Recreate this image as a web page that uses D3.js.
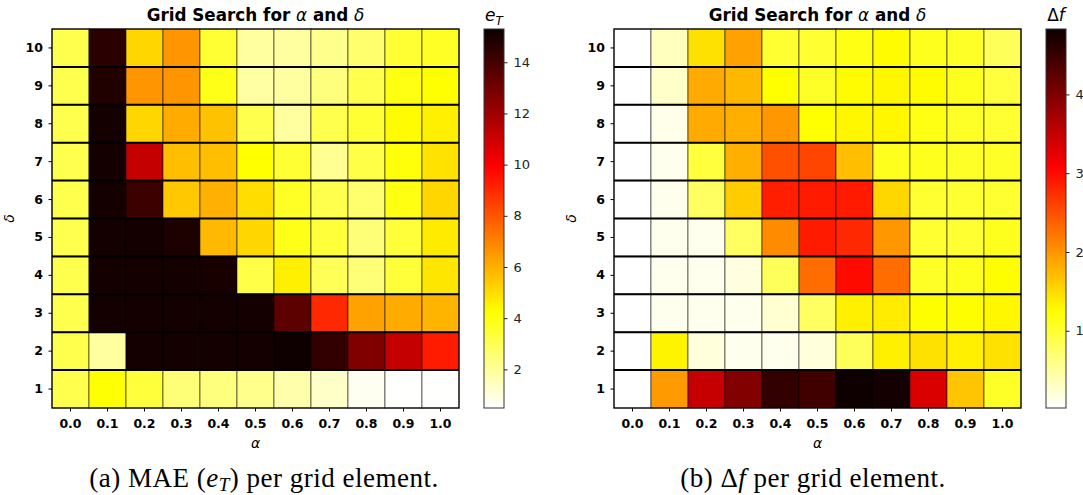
<!DOCTYPE html>
<html>
<head>
<meta charset="utf-8">
<script src="https://cdn.jsdelivr.net/npm/d3@7"></script>
<style>
  body { margin: 0; background: #fff; }
  svg text { font-family: "DejaVu Sans", sans-serif; }
</style>
</head>
<body>
<svg id="chart" width="1083" height="495"></svg>
<script>
const alphas = ["0.0", "0.1", "0.2", "0.3", "0.4", "0.5", "0.6", "0.7", "0.8", "0.9", "1.0"];
const deltas = [1, 2, 3, 4, 5, 6, 7, 8, 9, 10];

// rows listed from delta = 10 (top) down to delta = 1 (bottom)
const maeRows = [
  [3.1, 14.6, 5.15, 6.6, 3.5, 1.9, 1.9, 2.2, 2.65, 3.5, 3.7],
  [3.1, 14.8, 6.6, 6.6, 3.9, 1.85, 1.9, 2.4, 3.1, 4.0, 4.25],
  [3.1, 15.1, 5.15, 6.1, 5.6, 3.1, 1.9, 3.1, 3.5, 4.35, 4.6],
  [3.1, 15.1, 11.2, 5.7, 5.7, 4.25, 3.5, 2.1, 3.2, 4.1, 4.9],
  [3.1, 15.1, 14.2, 5.46, 6.0, 5.0, 3.7, 3.1, 2.65, 4.0, 5.15],
  [3.1, 15.1, 15.1, 14.9, 5.8, 5.15, 3.9, 3.4, 2.5, 3.4, 4.7],
  [3.1, 15.1, 15.1, 15.1, 15.0, 3.2, 4.6, 2.95, 2.5, 3.4, 4.8],
  [3.1, 15.1, 15.1, 15.1, 15.1, 15.1, 13.5, 9.0, 6.3, 6.1, 5.9],
  [3.1, 1.9, 15.1, 15.1, 15.1, 15.1, 15.2, 14.4, 12.7, 11.2, 9.3],
  [3.1, 4.2, 3.36, 2.5, 2.4, 2.2, 1.73, 1.3, 0.7, 0.5, 0.5]
];

const dfRows = [
  [0.02, 0.33, 1.46, 1.92, 1.0, 1.0, 1.15, 1.27, 1.1, 1.05, 0.81],
  [0.02, 0.28, 1.85, 1.75, 1.24, 1.05, 1.27, 1.3, 1.27, 1.1, 0.95],
  [0.02, 0.12, 1.85, 1.82, 1.99, 1.24, 1.3, 1.3, 1.15, 1.05, 1.0],
  [0.02, 0.1, 0.95, 1.82, 2.5, 2.58, 1.71, 1.1, 1.1, 1.05, 1.05],
  [0.02, 0.1, 0.77, 1.61, 2.86, 2.89, 2.89, 1.53, 1.0, 1.0, 1.0],
  [0.02, 0.1, 0.1, 0.77, 2.07, 2.89, 2.79, 1.99, 1.0, 1.0, 1.1],
  [0.02, 0.1, 0.1, 0.17, 0.81, 2.29, 3.0, 2.29, 1.05, 1.1, 1.25],
  [0.02, 0.1, 0.1, 0.1, 0.24, 0.77, 1.35, 1.38, 1.25, 1.25, 1.3],
  [0.02, 1.32, 0.19, 0.1, 0.1, 0.19, 0.81, 1.35, 1.46, 1.35, 1.46],
  [0.02, 1.96, 3.48, 3.97, 4.54, 4.44, 4.8, 4.76, 3.33, 1.66, 1.05]
];

const maeTicks = [2, 4, 6, 8, 10, 12, 14];
const dfTicks = [1, 2, 3, 4];
const maeRange = [0.49, 15.3];
const dfRange = [0.02, 4.83];

// matplotlib "hot", reversed
function hotR(t) {
  const v = 1 - Math.max(0, Math.min(1, t));
  const r = v < 0.365079 ? 0.0416 + v * (1 - 0.0416) / 0.365079 : 1;
  const g = v < 0.365079 ? 0 : v < 0.746032 ? (v - 0.365079) / (0.746032 - 0.365079) : 1;
  const b = v < 0.746032 ? 0 : (v - 0.746032) / (1 - 0.746032);
  return d3.rgb(r * 255, g * 255, b * 255).formatHex();
}

const svg = d3.select("#chart");
const W = 407, H = 379, plotTop = 29;

function panel(left, rows, range, ticks, cbLeft, gradId, cbLabel) {
  const g = svg.append("g").attr("transform", "translate(" + left + "," + plotTop + ")");
  const x = d3.scaleBand().domain(alphas).range([0, W]);
  const y = d3.scaleBand().domain(deltas).range([H, 0]);
  const norm = d3.scaleLinear().domain(range).range([0, 1]);

  const cells = [];
  rows.forEach((row, i) => {
    const delta = deltas[deltas.length - 1 - i];
    row.forEach((v, j) => cells.push({a: alphas[j], d: delta, v: v}));
  });

  g.selectAll(".cell")
    .data(cells)
    .enter().append("rect")
    .attr("class", "cell")
    .attr("x", d => x(d.a))
    .attr("y", d => y(d.d))
    .attr("width", x.bandwidth())
    .attr("height", y.bandwidth())
    .attr("fill", d => hotR(norm(d.v)))
    .attr("stroke", "rgba(0,0,0,0.45)")
    .attr("stroke-width", 1.2);

  // row separators
  g.selectAll(".hline")
    .data(deltas.slice(1))
    .enter().append("line")
    .attr("x1", 0).attr("x2", W)
    .attr("y1", d => y(d) + y.bandwidth())
    .attr("y2", d => y(d) + y.bandwidth())
    .attr("stroke", "#000")
    .attr("stroke-width", 2);

  g.append("rect")
    .attr("width", W).attr("height", H)
    .attr("fill", "none").attr("stroke", "#000").attr("stroke-width", 1.2);

  const xa = g.append("g")
    .attr("transform", "translate(0," + H + ")")
    .call(d3.axisBottom(x).tickSize(3.5).tickPadding(7.5));
  const ya = g.append("g")
    .call(d3.axisLeft(y).tickSize(3.5).tickPadding(5.5));
  [xa, ya].forEach(a => {
    a.select(".domain").remove();
    a.selectAll("text")
      .style("font-family", "DejaVu Sans")
      .style("font-size", "12.5px")
      .style("font-weight", "bold")
      .attr("fill", "#000");
    a.selectAll("line").attr("stroke", "#000");
  });

  g.append("text")
    .attr("x", W / 2).attr("y", H + 40)
    .attr("text-anchor", "middle")
    .attr("font-size", 14).attr("font-style", "italic")
    .text("α");

  g.append("text")
    .attr("transform", "translate(" + (-38) + "," + (H / 2) + ") rotate(-90)")
    .attr("text-anchor", "middle")
    .attr("font-size", 14).attr("font-style", "italic")
    .text("δ");

  const title = g.append("text")
    .attr("x", W / 2).attr("y", -8)
    .attr("text-anchor", "middle")
    .attr("font-size", 16.8).attr("font-weight", "bold");
  title.append("tspan").text("Grid Search for ");
  title.append("tspan").attr("font-weight", "normal").attr("font-style", "italic").text("α");
  title.append("tspan").text(" and ");
  title.append("tspan").attr("font-weight", "normal").attr("font-style", "italic").text("δ");

  // colorbar
  const grad = svg.append("defs").append("linearGradient")
    .attr("id", gradId)
    .attr("x1", 0).attr("y1", 1).attr("x2", 0).attr("y2", 0);
  d3.range(0, 1.0001, 0.02).forEach(t => {
    grad.append("stop").attr("offset", t).attr("stop-color", hotR(t));
  });

  const cb = svg.append("g").attr("transform", "translate(" + cbLeft + "," + plotTop + ")");
  const cy = d3.scaleLinear().domain(range).range([H, 0]);
  cb.append("rect")
    .attr("width", 20).attr("height", H)
    .attr("fill", "url(#" + gradId + ")")
    .attr("stroke", "#333").attr("stroke-width", 1);
  const ca = cb.append("g")
    .attr("transform", "translate(20,0)")
    .call(d3.axisRight(cy).tickValues(ticks).tickFormat(d3.format("d")).tickSize(3.5).tickPadding(6));
  ca.select(".domain").remove();
  ca.selectAll("text")
    .style("font-family", "DejaVu Sans")
    .style("font-size", "13px")
    .attr("fill", "#222");
  ca.selectAll("line").attr("stroke", "#222");

  cbLabel(cb.append("text")
    .attr("x", 10).attr("y", -8)
    .attr("text-anchor", "middle")
    .attr("font-size", 17));
}

panel(52, maeRows, maeRange, maeTicks, 484, "gradMae", t => {
  t.append("tspan").attr("font-style", "italic").text("e");
  t.append("tspan").attr("font-style", "italic").attr("font-size", 12).attr("dy", 4).text("T");
});

panel(614, dfRows, dfRange, dfTicks, 1046, "gradDf", t => {
  t.append("tspan").text("Δ");
  t.append("tspan").attr("font-style", "italic").text("f");
});

// sub-figure captions
const capA = svg.append("text")
  .attr("x", 264).attr("y", 487)
  .attr("text-anchor", "middle")
  .style("font-family", "Liberation Serif")
  .style("letter-spacing", "0.5px")
  .attr("font-size", 27);
capA.append("tspan").text("(a) MAE (");
capA.append("tspan").attr("font-style", "italic").text("e");
capA.append("tspan").attr("font-style", "italic").attr("font-size", 19).attr("dy", 4).text("T");
capA.append("tspan").attr("dy", -4).text(") per grid element.");

const capB = svg.append("text")
  .attr("x", 813).attr("y", 487)
  .attr("text-anchor", "middle")
  .style("font-family", "Liberation Serif")
  .style("letter-spacing", "0.5px")
  .attr("font-size", 27);
capB.append("tspan").text("(b) Δ");
capB.append("tspan").attr("font-style", "italic").text("f");
capB.append("tspan").text(" per grid element.");
</script>
</body>
</html>
